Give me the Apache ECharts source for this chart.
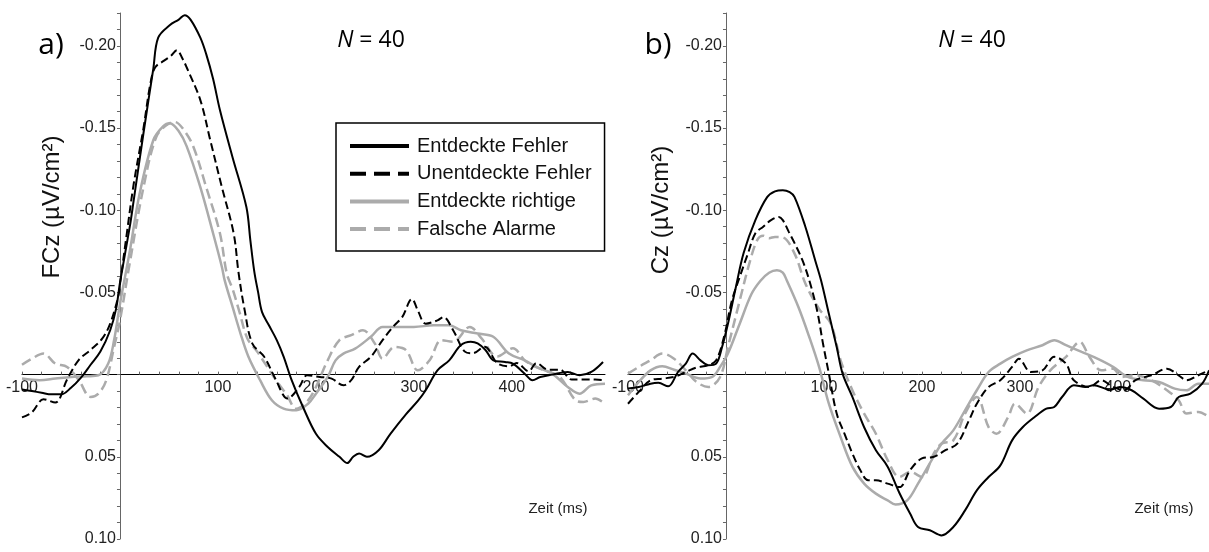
<!DOCTYPE html>
<html><head><meta charset="utf-8">
<script src="https://cdn.jsdelivr.net/npm/echarts@6/dist/echarts.min.js"></script>
<style>html,body{margin:0;padding:0;background:#fff}#c{width:1209px;height:552px}</style>
</head><body><div id="c"></div>
<script>
// ---------- texts ----------
const seriesNames = ['Entdeckte Fehler', 'Unentdeckte Fehler', 'Entdeckte richtige', 'Falsche Alarme'];
const panelLabels = ['a)', 'b)'];
const yAxisTitles = ['FCz (µV/cm²)', 'Cz (µV/cm²)'];
const xAxisTitle = 'Zeit (ms)';
const sampleSizeText = ' = 40';
const xTickLabels = [-100, 100, 200, 300, 400];
const yTickLabels = [-0.20, -0.15, -0.10, -0.05, 0.05, 0.10];

// ---------- data: [time in ms, value in µV/cm²] ----------
// Panel a) FCz
const fczEntdeckteFehler = [[-100,0.009],[-90,0.010],[-80,0.011],[-70,0.012],[-60,0.012],[-50,0.008],[-40,0.002],[-30,-0.006],[-20,-0.014],[-10,-0.027],[-4,-0.040],[0,-0.056],[10,-0.090],[14,-0.106],[24,-0.147],[34,-0.186],[39,-0.205],[51,-0.2127],[60,-0.216],[66,-0.2187],[72,-0.216],[82,-0.205],[88,-0.195],[95,-0.180],[102,-0.161],[115,-0.132],[129,-0.102],[133,-0.082],[137,-0.063],[141,-0.050],[145,-0.038],[152,-0.030],[160,-0.021],[167,-0.011],[175,0.003],[187,0.020],[200,0.036],[212,0.044],[224,0.050],[232,0.0538],[238,0.050],[244,0.048],[252,0.050],[264,0.046],[276,0.036],[292,0.024],[304,0.016],[312,0.0095],[324,-0.0026],[336,-0.0087],[348,-0.018],[358,-0.020],[365,-0.019],[373,-0.015],[381,-0.0087],[393,-0.0077],[401,-0.0067],[413,-0.0006],[421,0.0034],[429,0.0014],[441,0],[457,-0.0016],[469,0.0004],[481,-0.0016],[493,-0.0077]];
const fczUnentdeckteFehler = [[-100,0.026],[-90,0.023],[-78,0.015],[-66,0.017],[-54,0.003],[-42,-0.009],[-30,-0.015],[-18,-0.022],[-10,-0.031],[-2,-0.047],[0,-0.055],[7,-0.086],[14,-0.116],[24,-0.150],[31,-0.177],[36,-0.187],[45,-0.191],[52,-0.194],[58,-0.1974],[64,-0.192],[68,-0.187],[82,-0.167],[92,-0.143],[104,-0.114],[116,-0.086],[121,-0.062],[127,-0.040],[135,-0.019],[147,-0.011],[159,0.003],[171,0.0146],[183,0.0075],[191,0.0004],[204,0.0014],[216,0.0024],[228,0.0065],[236,0.0034],[244,-0.0047],[256,-0.0108],[268,-0.021],[280,-0.030],[288,-0.035],[298,-0.046],[304,-0.039],[312,-0.031],[324,-0.033],[330,-0.035],[340,-0.027],[352,-0.014],[360,-0.013],[372,-0.017],[385,-0.007],[397,-0.005],[405,-0.007],[417,-0.002],[425,-0.007],[437,-0.003],[449,-0.003],[461,0.003],[473,0.003],[485,0.003],[495,0.0034]];
const fczEntdeckteRichtige = [[-100,0.0024],[-82,0.0034],[-66,0.0024],[-50,0.0014],[-34,0.001],[-22,0.0004],[-12,-0.0067],[-6,-0.021],[0,-0.043],[10,-0.075],[20,-0.110],[34,-0.1426],[44,-0.151],[51,-0.1529],[60,-0.148],[68,-0.139],[82,-0.114],[95,-0.086],[104,-0.0655],[107,-0.057],[115,-0.041],[123,-0.025],[131,-0.011],[143,0.0034],[155,0.0156],[167,0.0207],[180,0.0217],[192,0.0177],[200,0.0116],[212,0.0014],[220,-0.0087],[228,-0.0128],[240,-0.0158],[256,-0.023],[268,-0.029],[280,-0.029],[300,-0.029],[320,-0.030],[336,-0.030],[348,-0.027],[365,-0.025],[381,-0.023],[397,-0.0128],[413,-0.0087],[425,-0.0047],[441,-0.0006],[457,0.0075],[469,0.0116],[481,0.0065],[495,0.0055]];
const fczFalscheAlarme = [[-100,-0.0060],[-90,-0.0097],[-78,-0.0128],[-66,-0.0067],[-54,-0.0047],[-42,0.0034],[-30,0.0136],[-22,0.0116],[-14,0.0034],[-6,-0.0168],[0,-0.033],[10,-0.068],[24,-0.114],[37,-0.1446],[48,-0.152],[56,-0.1537],[65,-0.149],[75,-0.1385],[88,-0.114],[102,-0.086],[109,-0.0615],[115,-0.052],[122,-0.038],[130,-0.022],[140,-0.014],[150,-0.005],[160,0.004],[170,0.012],[180,0.0207],[192,0.0156],[200,0.0075],[212,-0.0087],[224,-0.021],[236,-0.024],[248,-0.027],[260,-0.019],[268,-0.0097],[280,-0.0168],[292,-0.0148],[304,-0.0026],[316,-0.0087],[328,-0.021],[340,-0.020],[357,-0.029],[369,-0.022],[385,-0.011],[401,-0.016],[413,-0.0087],[421,-0.0057],[433,-0.0026],[449,0.0014],[465,0.0156],[473,0.0166],[485,0.0146],[495,0.0177]];

// Panel b) Cz
const czEntdeckteFehler = [[-100,0.0085],[-89,0.0075],[-77,0.0055],[-69,0.005],[-59,0.0071],[-49,-0.0016],[-41,-0.0067],[-34,-0.0128],[-26,-0.0087],[-18,-0.0057],[-10,-0.0067],[-4,-0.0168],[2,-0.031],[10,-0.053],[18,-0.074],[30,-0.094],[42,-0.108],[50,-0.1115],[58,-0.1122],[65,-0.111],[70,-0.108],[81,-0.090],[91,-0.0696],[97,-0.0574],[105,-0.037],[113,-0.0168],[119,-0.0006],[129,0.0136],[141,0.032],[153,0.046],[165,0.056],[177,0.072],[188,0.0846],[196,0.0927],[208,0.0947],[220,0.0978],[232,0.0927],[244,0.0826],[256,0.0704],[268,0.0623],[280,0.0552],[292,0.040],[303,0.0319],[315,0.0258],[327,0.0207],[335,0.0197],[343,0.0136],[355,0.0065],[367,0.0075],[375,0.0065],[387,0.0085],[391,0.0095],[402,0.0075],[414,0.0095],[426,0.0146],[442,0.0207],[454,0.0197],[462,0.0136],[474,0.0116],[486,0.0055],[493,-0.0026]];
const czUnentdeckteFehler = [[-100,0.0177],[-89,0.0105],[-77,0.0034],[-65,0.0024],[-53,0.0014],[-41,-0.0016],[-30,-0.0043],[-18,-0.0057],[-10,-0.0087],[-2,-0.023],[6,-0.045],[14,-0.0594],[22,-0.073],[30,-0.086],[38,-0.090],[46,-0.094],[54,-0.0959],[58,-0.094],[64,-0.087],[70,-0.080],[78,-0.0696],[85,-0.0574],[93,-0.039],[99,-0.0189],[105,-0.0006],[113,0.0237],[121,0.036],[129,0.048],[137,0.058],[145,0.0643],[153,0.0643],[165,0.0663],[177,0.0684],[188,0.058],[200,0.051],[212,0.050],[224,0.046],[236,0.042],[248,0.0278],[256,0.0177],[268,0.0075],[280,0.0034],[292,-0.0047],[299,-0.0097],[311,-0.0016],[323,-0.0026],[335,-0.0108],[347,-0.0067],[355,0.0034],[371,0.0075],[383,0.0034],[395,0.0075],[406,0.0095],[418,0.0034],[434,0.0004],[450,-0.0036],[462,0.0004],[470,0.0034],[482,0.0004],[493,-0.0026]];
const czEntdeckteRichtige = [[-100,0.0126],[-89,0.0045],[-77,-0.0026],[-65,-0.0051],[-53,-0.003],[-41,-0.0006],[-26,0.0024],[-14,0.0014],[-6,-0.0047],[2,-0.0128],[14,-0.031],[26,-0.049],[35,-0.057],[44,-0.062],[52,-0.0635],[58,-0.062],[62,-0.0574],[74,-0.041],[85,-0.0229],[95,-0.0047],[105,0.0177],[117,0.038],[129,0.056],[141,0.0663],[153,0.0724],[165,0.0765],[173,0.079],[185,0.0765],[196,0.0663],[208,0.054],[220,0.042],[232,0.0339],[244,0.0217],[256,0.0095],[268,-0.0016],[280,-0.0067],[292,-0.0108],[307,-0.0148],[323,-0.0179],[335,-0.0209],[347,-0.0179],[363,-0.0138],[379,-0.0097],[395,-0.0047],[410,0.0014],[426,0.0034],[442,0.0045],[458,0.0085],[470,0.0095],[482,0.0055],[493,0.0055]];
const czFalscheAlarme = [[-100,-0.0006],[-89,-0.0047],[-77,-0.0087],[-65,-0.0128],[-53,-0.0097],[-41,-0.0026],[-30,0.0045],[-18,0.0075],[-6,0.0014],[2,-0.0168],[14,-0.045],[24,-0.068],[32,-0.082],[38,-0.0845],[44,-0.083],[50,-0.0838],[58,-0.0835],[70,-0.0736],[81,-0.0555],[95,-0.040],[107,-0.031],[117,-0.0087],[129,0.0095],[141,0.0237],[153,0.036],[165,0.052],[177,0.0623],[188,0.0592],[200,0.0623],[212,0.048],[220,0.042],[232,0.040],[244,0.0237],[256,0.0136],[268,0.0319],[276,0.036],[288,0.0258],[295,0.0177],[307,0.0237],[319,0.0075],[331,-0.0026],[347,-0.0108],[361,-0.0199],[371,-0.0108],[383,-0.0026],[395,-0.0036],[404,0.0014],[418,0.0004],[434,0.0034],[450,0.0095],[462,0.0156],[470,0.0237],[482,0.0227],[493,0.0258]];

const panelData = [
  [fczEntdeckteFehler, fczUnentdeckteFehler, fczEntdeckteRichtige, fczFalscheAlarme],
  [czEntdeckteFehler, czUnentdeckteFehler, czEntdeckteRichtige, czFalscheAlarme]
];

// ---------- styles / layout ----------
const lineStyles = [
  {color: '#000000', type: 'solid', width: 2},
  {color: '#000000', type: 'dashed', width: 2},
  {color: '#ababab', type: 'solid', width: 2.5},
  {color: '#ababab', type: 'dashed', width: 2.5}
];
const FONT = "'Liberation Sans', Arial, sans-serif";
const BIGFONT = "'Open Sans', 'Noto Sans', sans-serif";
const X_MIN = -100, X_MAX = 495, Y_MIN = -0.22, Y_MAX = 0.10;
const GRID_W = 583, GRID_H = 526, GRID_TOP = 13;

const chart = echarts.init(document.getElementById('c'), null, {renderer: 'canvas'});

const grids = [
  {left: 22, top: GRID_TOP, width: GRID_W, height: GRID_H, containLabel: false, outerBoundsMode: 'none'},
  {left: 628, top: GRID_TOP, width: GRID_W, height: GRID_H, containLabel: false, outerBoundsMode: 'none'}
];
// shift axes so they cross at the origin (0 ms, 0 µV/cm²)
const yAxisShift = -(0 - X_MIN) / (X_MAX - X_MIN) * GRID_W;
const xAxisShift = -(Y_MAX - 0) / (Y_MAX - Y_MIN) * GRID_H;

const xFmt = v => xTickLabels.some(t => Math.abs(t - v) < 1e-6) ? String(Math.round(v)) : '';
const yFmt = v => {
  const hit = yTickLabels.find(t => Math.abs(t - v) < 1e-6);
  return hit === undefined ? '' : hit.toFixed(2);
};

const xAxes = grids.map((g, i) => ({
  type: 'value', gridIndex: i, min: X_MIN, max: X_MAX, interval: 20,
  position: 'bottom', offset: xAxisShift,
  axisLine: {show: true, onZero: false, lineStyle: {color: '#000', width: 1}},
  axisTick: {show: true, inside: true, length: 3, lineStyle: {color: '#666', width: 1}},
  axisLabel: {formatter: xFmt, margin: 5, color: '#222', fontSize: 16, fontFamily: FONT, showMinLabel: true, showMaxLabel: false},
  splitLine: {show: false}
}));
const yAxes = grids.map((g, i) => ({
  type: 'value', gridIndex: i, inverse: true, min: Y_MIN, max: Y_MAX, interval: 0.01,
  position: 'left', offset: yAxisShift,
  axisLine: {show: true, onZero: false, lineStyle: {color: '#666', width: 1}},
  axisTick: {show: true, inside: false, length: 3, lineStyle: {color: '#666', width: 1}},
  axisLabel: {formatter: yFmt, margin: 4, color: '#222', fontSize: 16, fontFamily: FONT},
  splitLine: {show: false}
}));

const series = [];
panelData.forEach((set, p) => {
  set.forEach((data, k) => {
    series.push({
      type: 'line', name: seriesNames[k], xAxisIndex: p, yAxisIndex: p,
      data: data, showSymbol: false, symbol: 'none', smooth: 0.35,
      lineStyle: lineStyles[k], itemStyle: {color: lineStyles[k].color},
      z: 10 - k, silent: true, animation: false
    });
  });
});

const graphics = [];
panelLabels.forEach((lab, p) => {
  graphics.push({type: 'text', x: [51, 658][p], y: 45, style: {text: lab, font: "normal 30px " + BIGFONT, fill: '#000', align: 'center', verticalAlign: 'middle'}});
  graphics.push({type: 'text', x: [371, 972][p], y: 40, style: {
    text: '{i|N}{r|' + sampleSizeText + '}', align: 'center', verticalAlign: 'middle', fill: '#000',
    rich: {i: {font: "italic 23px " + BIGFONT, fill: '#000'}, r: {font: "normal 23px " + BIGFONT, fill: '#000'}}
  }});
  graphics.push({type: 'text', x: [52, 661][p], y: [207, 210][p], rotation: Math.PI / 2, style: {
    text: yAxisTitles[p], font: "normal 24px " + FONT, fill: '#111', align: 'center', verticalAlign: 'middle'}});
  graphics.push({type: 'text', x: [558, 1164][p], y: 509, style: {
    text: xAxisTitle, font: "normal 15px " + FONT, fill: '#222', align: 'center', verticalAlign: 'middle'}});
});

chart.setOption({
  backgroundColor: '#ffffff',
  animation: false,
  grid: grids,
  xAxis: xAxes,
  yAxis: yAxes,
  series: series,
  legend: {
    show: true, left: 336, top: 123, orient: 'vertical',
    data: seriesNames, selectedMode: false,
    itemWidth: 59, itemHeight: 14, itemGap: 7.7,
    padding: [13, 13, 12, 12],
    borderColor: '#000', borderWidth: 1.5, borderRadius: 0, backgroundColor: '#fff',
    lineStyle: {width: 4},
    itemStyle: {opacity: 0},
    textStyle: {fontSize: 20, lineHeight: 20, color: '#111', fontFamily: FONT, padding: [0, 0, 0, 3]}
  },
  graphic: graphics
});
</script>
</body></html>
